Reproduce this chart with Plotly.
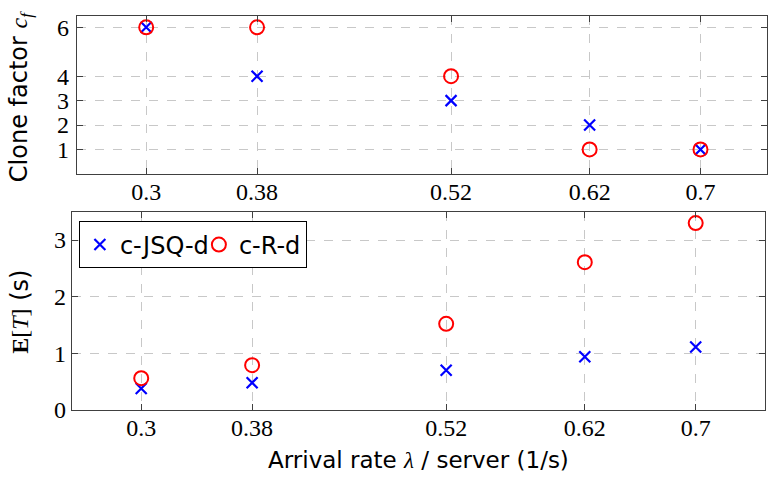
import plotly.graph_objects as go

lam = [0.3, 0.38, 0.52, 0.62, 0.7]
lam_labels = ["0.3", "0.38", "0.52", "0.62", "0.7"]
cf_jsq = [6, 4, 3, 2, 1]
cf_rd = [6, 6, 4, 1, 1]
et_jsq = [0.38, 0.48, 0.70, 0.94, 1.11]
et_rd = [0.56, 0.79, 1.52, 2.61, 3.30]
cf_ticks = [1, 2, 3, 4, 6]
et_ticks = [0, 1, 2, 3]

W, H = 768, 488
SERIF = "Liberation Serif"
SANS = "DejaVu Sans"
FRAME = "#404040"
GRID = "#c8c8c8"

jsq_marker = dict(symbol="x-thin-open", size=11, color="blue", line=dict(color="blue", width=2.2))
rd_marker = dict(symbol="circle-open", size=14, color="red", line=dict(color="red", width=2))

fig = go.Figure()
fig.add_trace(go.Scatter(x=lam, y=cf_jsq, mode="markers", marker=jsq_marker, xaxis="x", yaxis="y", showlegend=False))
fig.add_trace(go.Scatter(x=lam, y=cf_rd, mode="markers", marker=rd_marker, xaxis="x", yaxis="y", showlegend=False))
fig.add_trace(go.Scatter(x=lam, y=et_jsq, mode="markers", marker=jsq_marker, xaxis="x2", yaxis="y2",
                         name="c-JSQ-d", legendwidth=74))
fig.add_trace(go.Scatter(x=lam, y=et_rd, mode="markers", marker=rd_marker, xaxis="x2", yaxis="y2", name="c-R-d"))

def ax(**kw):
    d = dict(showline=True, linecolor=FRAME, linewidth=1.2, mirror="allticks",
             ticks="inside", ticklen=6, tickcolor=FRAME, tickwidth=1,
             showgrid=True, gridcolor=GRID, griddash="dash", gridwidth=1,
             zeroline=False, tickfont=dict(family=SERIF, size=24, color="black"))
    d.update(kw)
    return d

fig.update_layout(
    width=W, height=H, margin=dict(l=0, r=0, t=0, b=0),
    paper_bgcolor="white", plot_bgcolor="white",
    xaxis=ax(domain=[77/W, 1.0], range=[0.25, 0.748], tickvals=lam, ticktext=lam_labels, anchor="y",
             ticklabelstandoff=-4),
    yaxis=ax(domain=[1-178/H, 1-15/H], range=[0, 6.48], tickvals=cf_ticks, anchor="x", ticklabelstandoff=2),
    xaxis2=ax(domain=[72/W, 766/W], range=[0.25, 0.75], tickvals=lam, ticktext=lam_labels, anchor="y2",
              ticklabelstandoff=-4),
    yaxis2=ax(domain=[1-421/H, 1-217/H], range=[0, 3.5], tickvals=et_ticks, anchor="x2"),
    legend=dict(x=79/W, y=1-227/H, xanchor="left", yanchor="top", orientation="h",
                bordercolor="black", borderwidth=1, bgcolor="white",
                font=dict(family=SANS, size=24, color="black"), itemwidth=30,
                tracegroupgap=0),
    annotations=[
        dict(text="Clone factor <span style='font-family:Liberation Serif'><i>c<sub>f</sub></i></span>",
             x=20/W, y=1-98/H, xref="paper", yref="paper", textangle=-90, showarrow=False,
             font=dict(family=SANS, size=24, color="black"), xanchor="center", yanchor="middle"),
        dict(text="<span style='font-family:Liberation Serif'><b>E</b>[<i>T</i>]</span> (s)",
             x=20/W, y=1-320/H, xref="paper", yref="paper", textangle=-90, showarrow=False,
             font=dict(family=SANS, size=24, color="black"), xanchor="center", yanchor="middle"),
        dict(text="Arrival rate <span style='font-family:Liberation Serif'><i>λ</i></span> / server (1/s)",
             x=419/W, y=1-473/H, xref="paper", yref="paper", showarrow=False,
             font=dict(family=SANS, size=23, color="black"), xanchor="center", yanchor="middle"),
    ],
)

fig.write_html("out.html")
